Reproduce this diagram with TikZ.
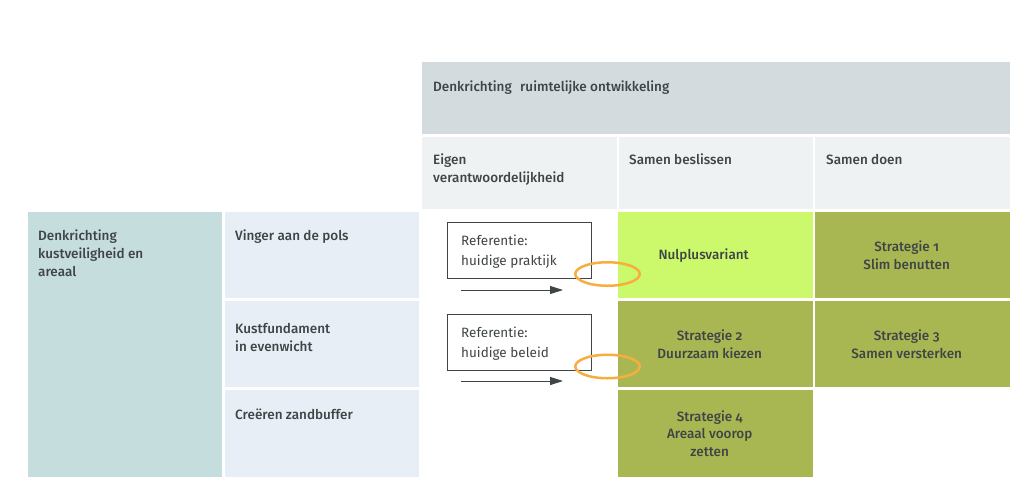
\documentclass[tikz,border=0pt]{standalone}
\usepackage{fontspec}
\setmainfont{Fira Sans}[BoldFont={* Medium},Numbers=OldStyle]
\usetikzlibrary{shapes.geometric,arrows.meta,positioning}

\definecolor{kopgrijs}{HTML}{D3DBDE}
\definecolor{kolomgrijs}{HTML}{EEF2F3}
\definecolor{kustblauw}{HTML}{C5DDDD}
\definecolor{vakblauw}{HTML}{E7EEF5}
\definecolor{lichtgroen}{HTML}{CCF96B}
\definecolor{olijfgroen}{HTML}{A9B753}
\definecolor{oranje}{HTML}{F7AE3E}
\definecolor{tekst}{HTML}{3F4446}

\newcommand\vakfont{\fontsize{13.5}{17.7}\selectfont}

\tikzset{
  vak/.style={anchor=north west, inner sep=0pt, minimum width=194pt, minimum height=86pt},
  kop/.style={anchor=north west, inner sep=0pt, align=left, font=\vakfont\bfseries, text=tekst},
  strat/.style={align=center, inner sep=0pt, font=\vakfont\bfseries, text=tekst},
  refbox/.style={draw=tekst, line width=1pt, anchor=north west, minimum width=144pt, minimum height=56pt, inner sep=0pt},
  reftekst/.style={anchor=north west, inner sep=0pt, align=left, text=tekst, font=\fontsize{13.5}{20}\selectfont},
  pijl/.style={draw=tekst, line width=1pt, -{Triangle[length=13pt,width=8pt]}},
  ring/.style={ellipse, draw=oranje, line width=2.5pt, minimum width=64.5pt, minimum height=23.5pt, inner sep=0pt}
}

\begin{document}
\begin{tikzpicture}[x=1pt,y=-1pt]
\useasboundingbox (0,0) rectangle (1033,496);

% kolommen
\node[vak, fill=kopgrijs, minimum width=588pt, minimum height=72pt] (kop) at (422,62) {};
\node[kop] (koptxt) at (433,81) {Denkrichting\hspace{5pt} ruimtelijke ontwikkeling};
\node[vak, fill=kolomgrijs, minimum height=72pt, minimum width=195pt] (eigen) at (422,137) {};
\node[vak, fill=kolomgrijs, minimum height=72pt] (beslis) at (619,137) {};
\node[vak, fill=kolomgrijs, minimum height=72pt, minimum width=195pt] (doen) at (815,137) {};
\node[kop] (eigentxt) at (433,154) {Eigen\\verantwoordelijkheid};
\node[kop] (beslistxt) at (629,154) {Samen beslissen};
\node[kop] (doentxt) at (826,154) {Samen doen};

% rijen
\node[vak, fill=kustblauw, minimum height=265pt] (kust) at (28,212) {};
\node[kop] (kusttxt) at (38,230) {Denkrichting\\kustveiligheid en\\areaal};
\node[vak, fill=vakblauw] (vinger) at (225,212) {};
\node[vak, fill=vakblauw] (fundament) at (225,301) {};
\node[vak, fill=vakblauw, minimum height=87pt] (buffer) at (225,390) {};
\node[kop] (vingertxt) at (235,230) {Vinger aan de pols};
\node[kop] (fundamenttxt) at (235,323) {Kustfundament\\in evenwicht};
\node[kop] (buffertxt) at (235,409) {Creëren zandbuffer};

% strategieen
\node[vak, fill=lichtgroen, minimum width=195pt] (nul) at (618,212) {};
\node[vak, fill=olijfgroen, minimum width=195pt] (s1) at (815,212) {};
\node[vak, fill=olijfgroen, minimum width=195pt] (s2) at (618,301) {};
\node[vak, fill=olijfgroen, minimum width=195pt] (s3) at (815,301) {};
\node[vak, fill=olijfgroen, minimum width=195pt, minimum height=87pt] (s4) at (618,390) {};
\node[strat] (nultxt) at ([xshift=-12pt]nul.center) {Nulplusvariant};
\node[strat] (s1txt) at ([xshift=-6pt]s1.center) {Strategie 1\\Slim benutten};
\node[strat] (s2txt) at ([xshift=-6pt]s2.center) {Strategie 2\\Duurzaam kiezen};
\node[strat] (s3txt) at ([xshift=-6pt]s3.center) {Strategie 3\\Samen versterken};
\node[strat] (s4txt) at ([xshift=-6pt]s4.center) {Strategie 4\\Areaal voorop\\zetten};

% referenties
\node[refbox] (ref1) at (447,222) {};
\node[refbox] (ref2) at (447,314) {};
\node[reftekst] (ref1txt) at (461,235) {Referentie:\\huidige praktijk};
\node[reftekst] (ref2txt) at (461,327) {Referentie:\\huidige beleid};
\coordinate (p1a) at (461,290);
\coordinate (p1b) at (563,290);
\coordinate (p2a) at (461,381);
\coordinate (p2b) at (563,381);
\draw[pijl] (p1a) -- (p1b);
\draw[pijl] (p2a) -- (p2b);
\node[ring] (ring1) at (607.5,274) {};
\node[ring] (ring2) at (607.5,366.5) {};
\end{tikzpicture}
\end{document}
